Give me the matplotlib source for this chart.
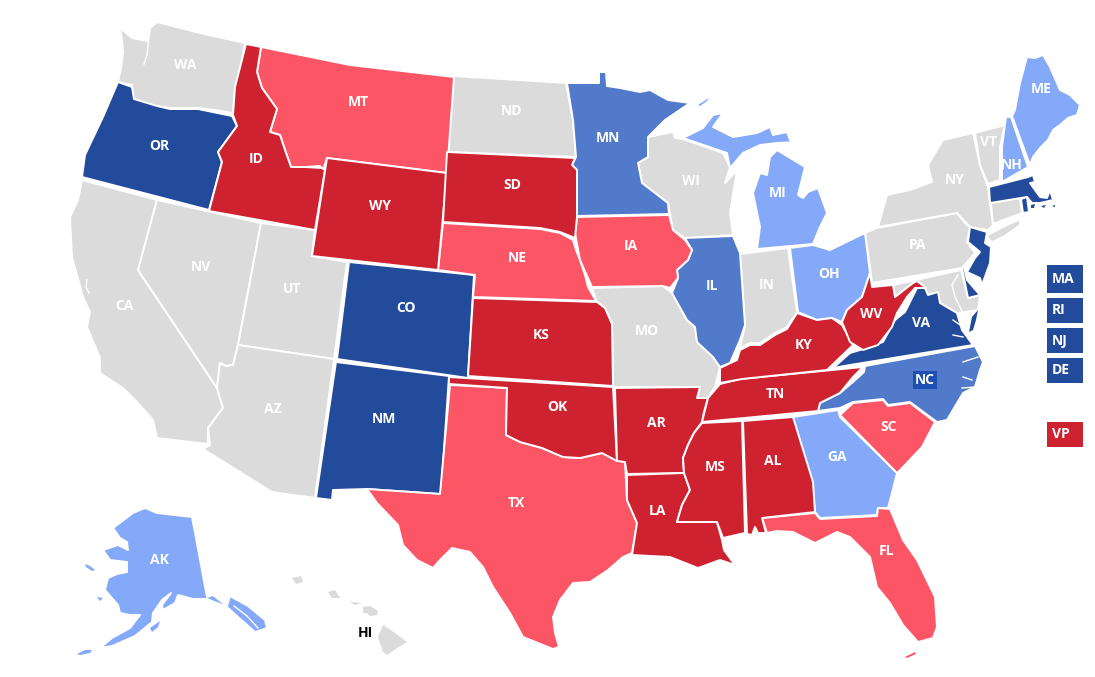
import matplotlib
matplotlib.use("Agg")
import matplotlib.pyplot as plt

# state outlines, in image pixels (x, y)
WA = [(120,28),(126,33),(132,38),(147,41),(150,28),(157,22),(200,33),(245,43),(240,70),(235,87),(233,113),(215,110),(198,108),(170,108),(157,106),(140,103),(133,97),(132,85),(118,82),(121,68),(123,53),(122,40)]
OR = [(118,82),(132,87),(134,99),(157,106),(170,109),(198,109),(232,116),(237,126),(218,152),(222,162),(209,210),(82,177),(85,155),(103,117)]
ID = [(246,44),(261,47),(257,72),(262,88),(277,109),(270,132),(280,135),(285,150),(291,167),(305,167),(322,168),(325,170),(315,230),(209,211),(222,162),(218,152),(237,126),(233,115),(235,87)]
MT = [(261,47),(350,65),(454,77),(447,173),(327,158),(323,170),(320,166),(305,167),(291,167),(285,150),(280,135),(270,132),(277,109),(262,88),(257,72)]
WY = [(327,158),(447,173),(438,270),(312,256)]
CA = [(78,200),(82,180),(157,200),(138,270),(217,388),(223,408),(208,428),(208,444),(157,438),(153,420),(138,403),(123,388),(100,373),(100,358),(87,327),(90,312),(83,297),(72,257),(70,217)]
NV = [(157,200),(261,223),(238,345),(233,365),(226,366),(220,363),(217,388),(138,270)]
UT = [(261,223),(315,230),(312,256),(347,262),(334,359),(238,345)]
AZ = [(238,345),(334,359),(315,498),(272,492),(203,449),(210,445),(208,428),(223,408),(217,388),(220,363),(226,366),(233,365)]
CO = [(349,262),(474,275),(468,378),(337,359)]
NM = [(336,362),(449,376),(441,494),(367,489),(333,490),(332,500),(316,498)]
ND = [(454,76),(566,83),(573,120),(576,157),(447,152)]
SD = [(447,152),(575,158),(572,165),(577,170),(577,217),(575,238),(560,232),(540,228),(443,222)]
NE = [(443,223),(540,229),(560,233),(573,240),(576,250),(580,260),(585,275),(588,287),(596,301),(473,297),(475,275),(438,270)]
KS = [(473,298),(597,302),(605,308),(612,324),(613,386),(468,376)]
OK = [(449,377),(613,387),(617,461),(602,453),(580,458),(563,457),(542,448),(520,442),(506,435),(507,388),(449,384)]
TX = [(450,385),(507,388),(506,435),(520,442),(542,448),(563,457),(580,458),(602,453),(617,460),(625,462),(627,500),(637,523),(632,553),(623,557),(608,570),(590,582),(573,583),(560,600),(553,617),(555,633),(559,647),(553,649),(523,637),(510,613),(493,587),(483,567),(470,552),(452,548),(440,560),(433,568),(417,560),(403,545),(398,525),(377,503),(367,489),(440,494)]
MN = [(567,83),(599,83),(599,72),(606,72),(607,86),(620,88),(640,92),(650,90),(668,100),(690,103),(665,120),(648,137),(648,157),(638,163),(642,183),(668,203),(669,214),(577,216),(577,170),(572,165),(576,157),(573,120)]
IA = [(577,217),(669,215),(673,230),(685,240),(692,250),(688,260),(677,270),(678,278),(670,288),(663,286),(592,287),(580,260),(575,233)]
MO = [(592,288),(663,286),(672,293),(687,320),(695,327),(697,342),(713,357),(720,367),(715,387),(708,398),(697,398),(700,387),(613,387),(612,324),(605,308),(597,302)]
AR = [(615,388),(700,387),(697,398),(708,398),(704,412),(702,422),(694,433),(688,445),(683,458),(684,473),(627,474),(625,462),(617,461)]
LA = [(627,475),(684,473),(690,490),(682,505),(677,522),(717,522),(722,540),(724,550),(735,565),(720,560),(698,568),(670,557),(632,555),(637,523),(627,500)]
WI = [(648,137),(673,132),(675,138),(683,139),(723,153),(730,167),(725,183),(737,170),(730,213),(733,235),(685,238),(673,230),(668,203),(642,183),(638,163),(648,157)]
IL = [(685,238),(733,236),(740,253),(745,325),(740,340),(730,363),(720,367),(713,357),(697,342),(695,327),(687,320),(672,293),(678,278),(677,270),(688,260),(692,250)]
IN = [(740,254),(788,248),(797,312),(787,327),(775,333),(760,343),(750,343),(740,348),(745,325)]
MI_LOWER = [(757,249),(813,244),(820,227),(827,213),(818,188),(808,192),(803,198),(798,195),(805,167),(777,150),(770,157),(767,175),(760,173),(753,193),(760,227)]
MI_UPPER = [(683,138),(703,128),(713,115),(723,113),(713,127),(733,137),(757,133),(770,127),(773,135),(787,132),(790,140),(797,142),(777,143),(760,145),(743,153),(730,168),(727,153)]
MI_ISLE = [(698,105),(709,98),(707,101),(700,106)]
OH = [(790,248),(813,245),(830,250),(865,233),(870,273),(862,297),(847,310),(842,322),(832,318),(817,320),(798,312)]
KY = [(797,313),(817,320),(832,318),(842,325),(853,345),(827,370),(742,379),(720,383),(720,368),(737,360),(740,350),(750,345),(760,345),(775,335),(787,329)]
TN = [(863,367),(740,379),(720,384),(708,398),(702,422),(818,411),(820,403),(840,393),(853,377)]
MS = [(702,423),(742,421),(745,533),(723,538),(717,522),(677,522),(682,505),(690,490),(684,473),(683,458),(688,445),(694,433)]
AL = [(743,421),(793,417),(813,482),(815,512),(762,518),(766,533),(758,533),(755,527),(752,535),(747,534)]
GA = [(793,417),(838,410),(840,417),(897,473),(892,493),(888,508),(878,508),(877,515),(820,518),(815,512),(812,482)]
FL = [(762,518),(815,513),(820,519),(877,516),(878,508),(890,509),(903,540),(917,560),(935,597),(937,627),(933,638),(918,642),(903,625),(890,603),(877,587),(870,557),(850,537),(837,532),(815,543),(793,532),(777,531),(767,533)]
FL_KEYS = [(905,657),(915,652),(916,654),(907,658)]
SC = [(840,415),(853,403),(883,400),(888,406),(910,403),(935,422),(922,447),(903,467),(897,473)]
NC = [(865,366),(975,346),(983,362),(980,370),(975,387),(963,393),(947,420),(937,422),(910,402),(888,405),(883,399),(853,402),(840,408),(818,411),(820,403),(840,393),(853,382),(864,372)]
VA = [(833,368),(850,353),(860,350),(883,342),(895,320),(905,312),(917,288),(925,288),(928,295),(938,292),(940,303),(957,313),(962,330),(973,345),(850,365)]
VA_SHORE = [(978,310),(972,317),(969,332),(973,330),(976,320)]
WV = [(870,273),(872,287),(893,285),(895,297),(913,283),(917,281),(926,288),(915,288),(907,297),(897,313),(892,327),(878,345),(863,350),(850,342),(842,322),(847,310),(862,297)]
PA = [(865,233),(877,228),(957,213),(965,223),(970,227),(967,242),(975,253),(962,268),(872,283),(870,267)]
MD = [(893,285),(961,270),(968,298),(980,295),(978,310),(965,312),(957,313),(940,303),(938,292),(928,295),(925,288),(913,283),(895,297)]
NY = [(878,227),(887,195),(910,190),(932,182),(928,165),(943,140),(973,133),(980,165),(988,187),(990,203),(993,225),(988,230),(970,227),(957,213)]
LONG_ISLAND = [(988,236),(1003,228),(1018,221),(1020,224),(1003,236),(992,241)]
VT = [(975,133),(1005,125),(1000,147),(1000,180),(988,184),(980,165)]
NH = [(1006,117),(1011,117),(1028,167),(1002,182),(1002,147)]
ME = [(1012,116),(1015,110),(1020,83),(1027,57),(1035,58),(1043,55),(1050,67),(1060,90),(1070,95),(1080,105),(1077,115),(1068,118),(1060,125),(1053,130),(1048,140),(1040,148),(1033,157),(1030,165)]
MA = [(989,187),(1028,177),(1033,175),(1035,182),(1030,183),(1040,197),(1047,198),(1050,190),(1053,200),(1040,203),(1032,203),(1027,197),(990,203)]
MA_ISLAND_1 = [(1031,205),(1035,204),(1034,208),(1031,208)]
MA_ISLAND_2 = [(1041,206),(1046,205),(1044,208)]
MA_ISLAND_3 = [(1052,206),(1055,205),(1055,207)]
RI = [(1021,199),(1027,197),(1029,212),(1023,213)]
CT = [(991,203),(1020,198),(1022,213),(993,224)]
NJ = [(970,227),(987,232),(985,243),(991,247),(990,263),(982,285),(980,278),(967,272),(975,258),(980,252),(968,242)]
DE = [(962,268),(964,267),(967,280),(980,295),(968,298)]
AK = [(113,528),(133,513),(145,508),(157,513),(192,517),(207,597),(213,595),(227,606),(230,596),(248,606),(265,620),(267,628),(255,632),(238,617),(227,607),(207,599),(193,599),(178,595),(175,603),(163,610),(162,605),(171,593),(162,600),(153,613),(152,622),(135,636),(112,646),(100,648),(112,638),(130,628),(140,615),(130,615),(120,613),(118,605),(105,590),(108,578),(117,574),(127,572),(127,562),(110,560),(103,550),(118,545),(128,550),(127,542),(120,538)]
AK_KODIAK = [(150,628),(160,621),(158,627),(152,632)]
AK_ST_LAWRENCE = [(85,564),(90,566),(95,570),(92,571),(86,567)]
AK_NUNIVAK = [(97,597),(103,598),(100,601)]
AK_ALEUTIAN = [(77,654),(85,650),(92,650),(90,653),(80,655)]
HI_BIG = [(383,625),(395,633),(407,642),(397,648),(387,655),(383,652),(378,637)]
HI_MAUI = [(363,607),(370,606),(378,611),(377,615),(370,616),(367,613),(363,613)]
HI_OAHU = [(328,592),(335,590),(340,598),(332,598)]
HI_KAUAI = [(292,578),(301,576),(303,582),(296,584)]
HI_MOLOKAI = [(350,602),(362,603),(355,605)]

# water cut into the land
PUGET_SOUND = [(150,30),(148,45),(147,55),(144,64)]
SF_BAY = [(87,280),(86,287),(89,293)]
CHESAPEAKE = [(958,275),(952,285),(955,297),(963,313),(967,327),(970,337)]
VA_RIVER_1 = [(953,320),(963,327)]
VA_RIVER_2 = [(953,335),(963,337)]
NC_SOUND_1 = [(963,362),(978,357)]
NC_SOUND_2 = [(963,377),(972,380)]
NC_SOUND_3 = [(962,388),(975,387)]
AK_PANHANDLE = [(234,606),(247,616),(258,628)]
WATER_LINES = [PUGET_SOUND, SF_BAY, CHESAPEAKE, VA_RIVER_1, VA_RIVER_2, NC_SOUND_1, NC_SOUND_2, NC_SOUND_3, AK_PANHANDLE]

# rating groups
DARK_BLUE = [OR, CO, NM, VA, MA, RI, NJ, DE]
MID_BLUE = [MN, IL, NC]
LIGHT_BLUE = [AK, MI_LOWER, MI_UPPER, OH, GA, NH, ME]
DARK_RED = [ID, WY, SD, KS, OK, AR, LA, MS, AL, TN, KY, WV]
LIGHT_RED = [MT, NE, IA, TX, FL, SC]
GRAY = [WA, CA, NV, UT, AZ, ND, WI, MO, IN, PA, MD, NY, VT, CT]

# small pieces, no white outline or they vanish
DARK_BLUE_SMALL = [VA_SHORE, MA_ISLAND_1, MA_ISLAND_2, MA_ISLAND_3]
LIGHT_BLUE_SMALL = [AK_KODIAK, AK_ST_LAWRENCE, AK_NUNIVAK, AK_ALEUTIAN, MI_ISLE]
LIGHT_RED_SMALL = [FL_KEYS]
GRAY_SMALL = [LONG_ISLAND, HI_BIG, HI_MAUI, HI_OAHU, HI_KAUAI, HI_MOLOKAI]

label_names = ["WA","MT","ND","MN","ME","VT","NH","NY","OR","ID","WY","SD","WI","MI","PA","IA","NE","NV","UT","CO","CA","IL","IN","OH","WV","VA","KY","KS","MO","TN","OK","AR","AZ","NM","SC","GA","MS","AL","TX","LA","FL","AK"]
label_x = [185,358,512,608,1041,989,1012,955,159,256,380,512,691,778,918,631,517,201,292,406,124,712,767,829,871,921,804,541,647,775,557,656,273,384,889,837,715,773,516,657,886,159]
label_y = [65,102,111,138,89,142,165,180,146,159,206,185,181,193,245,246,258,267,289,308,306,286,285,274,314,323,345,335,331,394,407,423,409,419,427,457,467,461,503,511,551,560]

side_names = ["MA","RI","NJ","DE","VP"]
side_top = [265,298,328,358,422]
side_bottom = [293,323,353,383,447]
side_colors = ["#234b9b","#234b9b","#234b9b","#234b9b","#ce2230"]

plt.rcParams['font.family'] = ['Open Sans', 'DejaVu Sans']

fig = plt.figure(figsize=(10.95, 6.77), dpi=100)
ax = fig.add_axes([0, 0, 1, 1])
ax.set_xlim(0, 1095)
ax.set_ylim(677, 0)
ax.axis("off")

groups = [(GRAY, "#dbdbdb", 1.4), (LIGHT_BLUE, "#84a9f8", 1.4), (MID_BLUE, "#527aca", 1.4),
          (DARK_BLUE, "#234b9b", 1.4), (LIGHT_RED, "#fc5566", 1.4), (DARK_RED, "#ce2230", 1.4),
          (GRAY_SMALL, "#dbdbdb", 0), (LIGHT_BLUE_SMALL, "#84a9f8", 0),
          (DARK_BLUE_SMALL, "#234b9b", 0), (LIGHT_RED_SMALL, "#fc5566", 0)]
for shapes, color, lw in groups:
    for shape in shapes:
        xs = [p[0] for p in shape]
        ys = [p[1] for p in shape]
        ax.fill(xs, ys, facecolor=color, edgecolor="white", linewidth=lw, joinstyle="round")

for line in WATER_LINES:
    ax.plot([p[0] for p in line], [p[1] for p in line], color="white", linewidth=1.0)

for name, x, y in zip(label_names, label_x, label_y):
    ax.text(x, y, name, color="white", fontsize=10, fontweight="bold", ha="center", va="center")

ax.text(925, 380, "NC", color="white", fontsize=10, fontweight="bold", ha="center", va="center",
        bbox=dict(facecolor="#1f4fb0", edgecolor="none", pad=1.5))
ax.text(365, 633, "HI", color="black", fontsize=10, fontweight="bold", ha="center", va="center")

for name, top, bottom, color in zip(side_names, side_top, side_bottom, side_colors):
    ax.fill([1047, 1083, 1083, 1047], [top, top, bottom, bottom], facecolor=color, edgecolor="none")
    ax.text(1052, (top + bottom) / 2, name, color="white", fontsize=10, fontweight="bold", ha="left", va="center")

fig.savefig("out.png", dpi=100, facecolor="white")
